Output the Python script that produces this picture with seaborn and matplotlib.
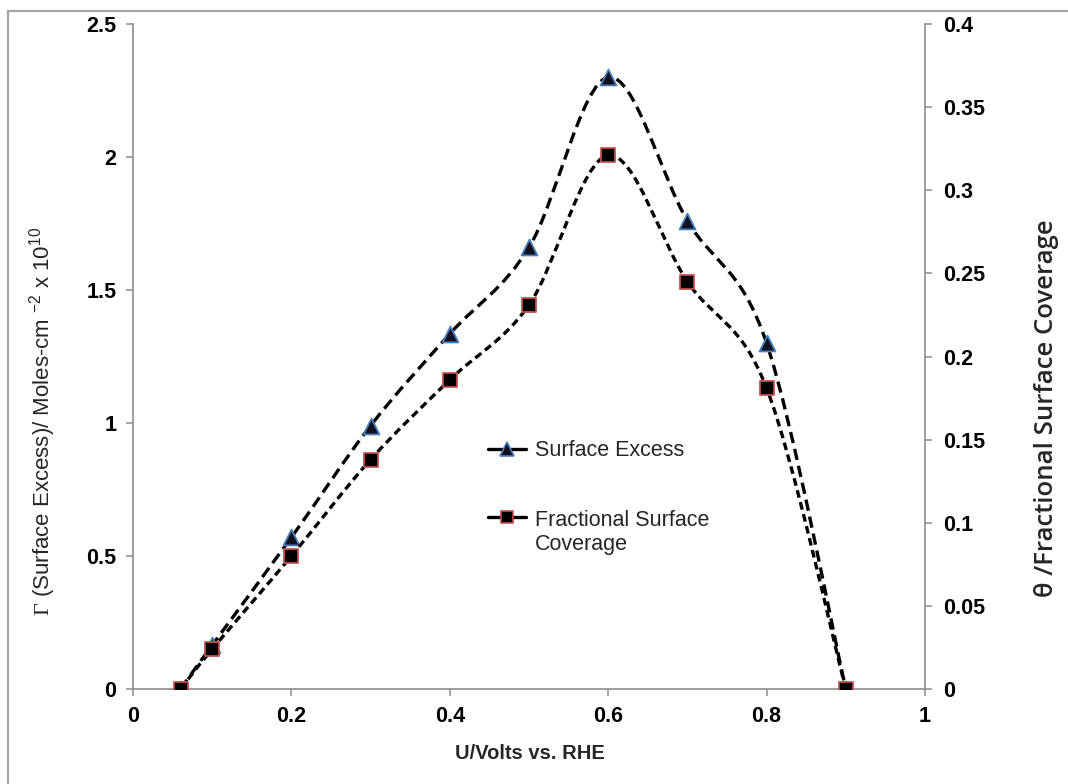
import numpy as np
import pandas as pd
import matplotlib
matplotlib.use("Agg")
import matplotlib.pyplot as plt
import seaborn as sns
from matplotlib.path import Path
from matplotlib.patches import PathPatch, Rectangle
from matplotlib.lines import Line2D
from matplotlib.legend_handler import HandlerLine2D

# ---- data ----
potential = [0.06, 0.1, 0.2, 0.3, 0.4, 0.5, 0.6, 0.7, 0.8, 0.9]
surface_excess = [0.0, 0.165, 0.57, 0.99, 1.335, 1.66, 2.30, 1.76, 1.30, 0.0]
coverage = [0.0, 0.024, 0.080, 0.138, 0.186, 0.231, 0.321, 0.245, 0.181, 0.0]
x_ticks = [0, 0.2, 0.4, 0.6, 0.8, 1]
x_tick_labels = ["0", "0.2", "0.4", "0.6", "0.8", "1"]
left_ticks = [0, 0.5, 1, 1.5, 2, 2.5]
left_tick_labels = ["0", "0.5", "1", "1.5", "2", "2.5"]
right_ticks = [0, 0.05, 0.1, 0.15, 0.2, 0.25, 0.3, 0.35, 0.4]
right_tick_labels = ["0", "0.05", "0.1", "0.15", "0.2", "0.25", "0.3", "0.35", "0.4"]
series_names = ["Surface Excess", "Fractional Surface\nCoverage"]

df = pd.DataFrame({"U": potential, "Gamma": surface_excess, "theta": coverage})

sns.set_style("white")
plt.rcParams["font.family"] = ["Liberation Sans", "DejaVu Sans"]
plt.rcParams["mathtext.fontset"] = "custom"
plt.rcParams["mathtext.rm"] = "Liberation Serif"
plt.rcParams["mathtext.sf"] = "Liberation Sans"
plt.rcParams["lines.scale_dashes"] = True

GRAY = "#8C8C8C"
TRI_EDGE = "#4A7EBB"
TRI_FACE = "#10101E"
SQ_EDGE = "#C0504D"
SQ_FACE = "#000000"
TICK_FS = 15.5

fig = plt.figure(figsize=(10.68, 7.84), dpi=100)
ax = fig.add_axes([133 / 1068, 1 - 689 / 784, 792 / 1068, 665 / 784])
ax2 = ax.twinx()

# figure border (gray frame, left/top visible)
fig.patches.append(Rectangle((8 / 1068, -0.1), 1.2, (784 - 11) / 784 + 0.1,
                             transform=fig.transFigure, fill=False,
                             edgecolor="#A6A6A6", lw=1.6))


def smooth_path(xs, ys):
    P = np.column_stack([xs, ys]).astype(float)
    n = len(P)
    verts = [P[0]]
    codes = [Path.MOVETO]
    for i in range(n - 1):
        p_prev = P[i - 1] if i > 0 else P[i]
        p_next = P[i + 2] if i + 2 < n else P[i + 1]
        c1 = P[i] + (P[i + 1] - p_prev) / 6.0
        c2 = P[i + 1] - (p_next - P[i]) / 6.0
        verts += [c1, c2, P[i + 1]]
        codes += [Path.CURVE4] * 3
    return Path(verts, codes)


LW = 2.4
DASH1 = (0, (3.4, 1.8))
DASH2 = (0, (2.3, 1.4))

ax.add_patch(PathPatch(smooth_path(df["U"], df["Gamma"]), fill=False,
                       edgecolor="black", lw=LW, linestyle=DASH1, zorder=2))
sns.scatterplot(data=df, x="U", y="Gamma", marker="^", s=130, color=TRI_FACE,
                edgecolor=TRI_EDGE, linewidth=1.3, ax=ax, zorder=3, legend=False)

ax2.add_patch(PathPatch(smooth_path(df["U"], df["theta"]), fill=False,
                        edgecolor="black", lw=LW, linestyle=DASH2, zorder=2))
sns.scatterplot(data=df, x="U", y="theta", marker="s", s=110, color=SQ_FACE,
                edgecolor=SQ_EDGE, linewidth=1.3, ax=ax2, zorder=3, legend=False)

ax.set_xlim(0, 1)
ax.set_ylim(0, 2.5)
ax2.set_ylim(0, 0.4)

ax.set_xticks(x_ticks)
ax.set_xticklabels(x_tick_labels)
ax.set_yticks(left_ticks)
ax.set_yticklabels(left_tick_labels)
ax2.set_yticks(right_ticks)
ax2.set_yticklabels(right_tick_labels)

for a in (ax, ax2):
    for s in a.spines.values():
        s.set_visible(False)
    a.grid(False)
ax.spines["left"].set_visible(True)
ax.spines["bottom"].set_visible(True)
ax2.spines["right"].set_visible(True)
for s in (ax.spines["left"], ax.spines["bottom"], ax2.spines["right"]):
    s.set_color(GRAY)
    s.set_linewidth(1.2)

ax.tick_params(axis="both", which="major", direction="out", length=5, width=1.1,
               color=GRAY, labelcolor="black", labelsize=TICK_FS, pad=7,
               bottom=True, left=True, top=False, right=False)
ax2.tick_params(axis="y", which="major", direction="out", length=5, width=1.1,
                color=GRAY, labelcolor="black", labelsize=TICK_FS, pad=8,
                right=True, left=False)
for lab in ax.get_xticklabels() + ax.get_yticklabels() + ax2.get_yticklabels():
    lab.set_fontweight("bold")

ax.set_xlabel("U/Volts vs. RHE", fontsize=14.5, fontweight="bold")
ax.xaxis.set_label_coords(0.501, -0.083)
ax.set_ylabel(r"$\Gamma$ (Surface Excess)/ Moles-cm $^{\mathsf{-2}}$ x 10$^{\mathsf{10}}$",
              fontsize=16)
ax.yaxis.set_label_coords(-0.095, 0.403)
ax2.set_ylabel("θ /Fractional Surface Coverage", fontsize=18.5, fontweight="semibold",
               family=["Open Sans", "DejaVu Sans"], rotation=90)
ax2.yaxis.set_label_coords(1.137, 0.423)


class FirstLineHandler(HandlerLine2D):
    """Align the legend handle with the first line of a two-line label."""

    def __init__(self, shift=0.0, **kw):
        super().__init__(**kw)
        self.shift = shift

    def create_artists(self, legend, orig_handle, xdescent, ydescent, width,
                       height, fontsize, trans):
        return super().create_artists(legend, orig_handle, xdescent,
                                      ydescent - 2 * self.shift, width, height,
                                      fontsize, trans)


handles = [
    Line2D([], [], color="black", lw=LW, linestyle="-", marker="^", markersize=10,
           markerfacecolor=TRI_FACE, markeredgecolor=TRI_EDGE, markeredgewidth=1.2),
    Line2D([], [], color="black", lw=LW, linestyle="-", marker="s", markersize=9,
           markerfacecolor=SQ_FACE, markeredgecolor=SQ_EDGE, markeredgewidth=1.2),
]
ax2.legend(handles, series_names, loc="upper left", bbox_to_anchor=(0.448, 0.374),
           frameon=False, fontsize=15.5, handlelength=1.77, handletextpad=0.42,
           labelspacing=2.27, borderpad=0, borderaxespad=0,
           handler_map={handles[1]: FirstLineHandler(shift=11.5)})

fig.savefig("out.png", dpi=100)
